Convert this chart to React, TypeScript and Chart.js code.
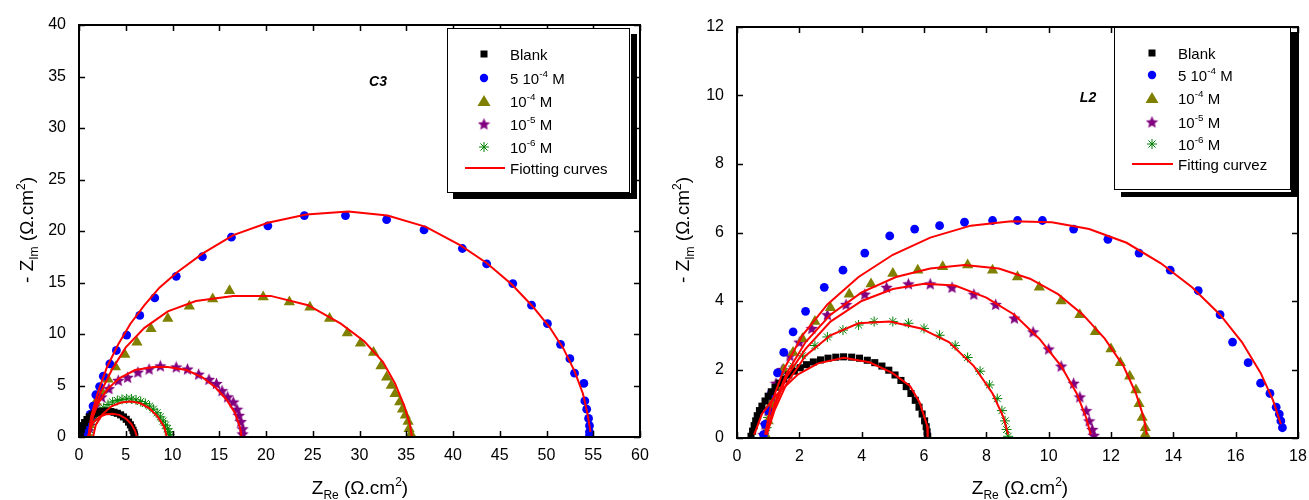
import React, { useEffect, useRef } from "react";
import { Chart, registerables } from "chart.js";
Chart.register(...registerables);

// ---------- C3 (left) data ----------
const c3BlankX = [0.1, 0.15, 0.25, 0.4, 0.6, 0.85, 1.1, 1.4, 1.7, 2.0, 2.35, 2.7, 3.05, 3.4, 3.75, 4.1, 4.45, 4.75, 5.05, 5.3, 5.5, 5.65, 5.78, 5.87, 5.93, 5.97];
const c3BlankY = [0.1, 0.4, 0.75, 1.1, 1.4, 1.7, 1.95, 2.15, 2.3, 2.4, 2.47, 2.5, 2.5, 2.47, 2.4, 2.3, 2.15, 1.95, 1.72, 1.45, 1.18, 0.9, 0.65, 0.42, 0.22, 0.05];
const c3BlueX = [0.6, 0.8, 1.0, 1.2, 1.5, 1.8, 2.2, 2.6, 3.3, 4.0, 5.1, 6.5, 8.1, 10.4, 13.2, 16.3, 20.2, 24.1, 28.5, 32.9, 36.9, 41.0, 43.6, 46.4, 48.4, 50.1, 51.5, 52.5, 53.0, 54.0, 54.1, 54.3, 54.5, 54.6, 54.6, 54.6];
const c3BlueY = [0.2, 0.8, 1.5, 2.2, 3.0, 4.1, 4.9, 5.9, 7.1, 8.4, 9.9, 11.8, 13.5, 15.6, 17.5, 19.4, 20.5, 21.5, 21.5, 21.1, 20.1, 18.3, 16.8, 14.9, 12.8, 11.0, 9.0, 7.6, 6.2, 5.2, 3.5, 2.7, 1.8, 1.1, 0.5, 0.15];
const c3TriX = [0.9, 1.1, 1.4, 1.8, 2.4, 3.1, 3.9, 4.9, 6.2, 7.7, 9.5, 11.8, 14.3, 16.1, 19.7, 22.5, 24.7, 26.8, 28.7, 30.1, 31.5, 32.3, 32.9, 33.4, 33.8, 34.3, 34.6, 34.9, 35.2, 35.3, 35.5];
const c3TriY = [0.3, 1.2, 2.3, 3.4, 4.5, 5.6, 6.8, 8.0, 9.2, 10.5, 11.5, 12.7, 13.4, 14.2, 13.6, 13.1, 12.6, 11.5, 10.1, 9.1, 8.2, 6.9, 5.8, 5.0, 4.2, 3.4, 2.7, 2.1, 1.5, 0.8, 0.3];
const c3StarX = [0.9, 1.1, 1.4, 1.8, 2.4, 3.2, 4.2, 5.2, 6.3, 7.5, 8.7, 10.4, 11.6, 12.8, 13.9, 14.7, 15.3, 15.9, 16.5, 16.9, 17.1, 17.3, 17.5, 17.5];
const c3StarY = [0.5, 1.1, 2.1, 3.1, 3.9, 4.7, 5.5, 5.8, 6.3, 6.6, 6.9, 6.8, 6.6, 6.1, 5.6, 5.2, 4.5, 3.9, 3.4, 2.7, 2.1, 1.5, 0.8, 0.3];
const c3AstX = [1.0, 1.15, 1.35, 1.6, 1.9, 2.25, 2.65, 3.1, 3.6, 4.1, 4.6, 5.1, 5.6, 6.1, 6.6, 7.1, 7.55, 7.95, 8.35, 8.7, 9.0, 9.25, 9.45, 9.6, 9.7, 9.75];
const c3AstY = [0.2, 0.7, 1.2, 1.65, 2.1, 2.5, 2.85, 3.15, 3.4, 3.55, 3.65, 3.7, 3.7, 3.6, 3.45, 3.25, 3.0, 2.7, 2.35, 1.95, 1.55, 1.15, 0.8, 0.5, 0.25, 0.05];
// fitting curves (C3)
const c3FitBlankX = [1.0, 1.2, 1.6, 2.2, 2.9, 3.6, 4.3, 5.0, 5.6, 6.0, 6.2];
const c3FitBlankY = [0.0, 0.9, 1.5, 1.95, 2.2, 2.25, 2.15, 1.8, 1.25, 0.6, 0.0];
const c3FitBlueX = [1.0, 1.3, 2.0, 3.0, 4.2, 5.5, 7.0, 8.6, 10.5, 13.2, 16.5, 20.2, 24.3, 28.8, 33.0, 37.1, 40.8, 43.6, 46.3, 48.5, 50.3, 51.8, 53.0, 53.9, 54.4, 54.7];
const c3FitBlueY = [0.0, 2.0, 4.3, 6.8, 9.0, 11.0, 12.8, 14.5, 16.0, 17.8, 19.6, 20.8, 21.6, 21.9, 21.5, 20.4, 18.6, 16.9, 14.8, 12.7, 10.7, 8.6, 6.4, 4.2, 2.2, 0.5];
const c3FitTriX = [1.1, 1.5, 2.3, 3.5, 5.0, 7.0, 9.5, 12.5, 16.5, 20.5, 24.5, 28.0, 30.5, 32.5, 33.8, 34.8, 35.4, 35.6];
const c3FitTriY = [0.0, 2.2, 4.3, 6.5, 8.7, 10.6, 12.2, 13.2, 13.7, 13.7, 12.8, 11.0, 9.3, 7.3, 5.2, 3.0, 1.2, 0.0];
const c3FitStarX = [1.0, 1.3, 2.0, 3.0, 4.3, 6.0, 8.0, 9.5, 11.5, 13.2, 14.6, 15.8, 16.7, 17.2, 17.4];
const c3FitStarY = [0.0, 1.5, 3.2, 4.6, 5.7, 6.5, 6.8, 6.8, 6.5, 5.8, 4.8, 3.6, 2.3, 1.0, 0.0];
const c3FitAstX = [1.5, 1.8, 2.5, 3.5, 4.5, 5.5, 6.5, 7.5, 8.4, 9.1, 9.4];
const c3FitAstY = [0.0, 1.2, 2.2, 3.0, 3.35, 3.45, 3.3, 2.8, 2.0, 1.0, 0.0];

// ---------- L2 (right) data ----------
const l2BlankX = [0.45, 0.5, 0.55, 0.6, 0.65, 0.72, 0.8, 0.9, 1.0, 1.1, 1.22, 1.35, 1.5, 1.66, 1.84, 2.03, 2.23, 2.45, 2.68, 2.92, 3.17, 3.42, 3.68, 3.93, 4.18, 4.42, 4.65, 4.87, 5.07, 5.26, 5.43, 5.58, 5.72, 5.84, 5.94, 6.02, 6.07, 6.1, 6.12];
const l2BlankY = [0.05, 0.2, 0.36, 0.5, 0.65, 0.8, 0.93, 1.08, 1.22, 1.35, 1.48, 1.6, 1.72, 1.84, 1.95, 2.05, 2.14, 2.22, 2.28, 2.33, 2.36, 2.37, 2.36, 2.33, 2.27, 2.2, 2.1, 1.98, 1.84, 1.68, 1.5, 1.3, 1.1, 0.9, 0.7, 0.5, 0.33, 0.18, 0.05];
const l2BlueX = [0.85, 0.9, 1.0, 1.1, 1.3, 1.5, 1.8, 2.2, 2.8, 3.4, 4.1, 4.9, 5.7, 6.5, 7.3, 8.2, 9.0, 9.8, 10.8, 11.9, 12.9, 13.9, 14.8, 15.5, 15.9, 16.4, 16.8, 17.1, 17.3, 17.4, 17.45, 17.5];
const l2BlueY = [0.1, 0.4, 0.8, 1.3, 1.9, 2.5, 3.1, 3.7, 4.4, 4.9, 5.4, 5.9, 6.1, 6.2, 6.3, 6.35, 6.35, 6.35, 6.1, 5.8, 5.4, 4.9, 4.3, 3.6, 2.8, 2.2, 1.6, 1.3, 0.9, 0.7, 0.5, 0.3];
const l2TriX = [0.9, 1.0, 1.1, 1.3, 1.5, 1.8, 2.1, 2.5, 3.0, 3.6, 4.3, 5.0, 5.8, 6.6, 7.4, 8.2, 9.0, 9.7, 10.4, 11.0, 11.5, 12.0, 12.3, 12.6, 12.8, 12.9, 13.0, 13.1, 13.1];
const l2TriY = [0.1, 0.5, 1.0, 1.5, 2.0, 2.5, 2.9, 3.4, 3.8, 4.2, 4.5, 4.8, 4.9, 5.0, 5.05, 4.9, 4.7, 4.4, 4.0, 3.6, 3.1, 2.6, 2.2, 1.8, 1.4, 1.0, 0.6, 0.3, 0.1];
const l2StarX = [0.85, 0.9, 1.0, 1.1, 1.25, 1.45, 1.7, 2.0, 2.4, 2.9, 3.5, 4.1, 4.8, 5.5, 6.2, 6.9, 7.6, 8.3, 8.9, 9.5, 10.0, 10.4, 10.8, 11.0, 11.2, 11.3, 11.4, 11.45];
const l2StarY = [0.1, 0.4, 0.8, 1.2, 1.6, 2.0, 2.4, 2.8, 3.2, 3.6, 3.9, 4.2, 4.4, 4.5, 4.5, 4.4, 4.2, 3.9, 3.5, 3.1, 2.6, 2.1, 1.6, 1.2, 0.8, 0.5, 0.25, 0.08];
const l2AstX = [0.9, 0.95, 1.0, 1.1, 1.2, 1.35, 1.55, 1.8, 2.1, 2.5, 2.9, 3.4, 3.9, 4.4, 5.0, 5.5, 6.0, 6.5, 7.0, 7.4, 7.8, 8.1, 8.35, 8.5, 8.6, 8.65, 8.7];
const l2AstY = [0.05, 0.3, 0.6, 0.9, 1.2, 1.5, 1.8, 2.1, 2.4, 2.7, 2.95, 3.15, 3.3, 3.4, 3.4, 3.35, 3.2, 3.0, 2.7, 2.35, 1.95, 1.55, 1.15, 0.8, 0.5, 0.25, 0.05];
// fitting curves (L2)
const l2FitBlankX = [0.55, 0.8, 1.23, 1.96, 2.6, 3.42, 4.25, 4.98, 5.55, 5.86, 6.1, 6.12];
const l2FitBlankY = [0.1, 0.7, 1.23, 1.86, 2.18, 2.34, 2.21, 1.9, 1.52, 1.04, 0.36, 0.0];
const l2FitBlueX = [0.9, 1.1, 1.5, 2.1, 2.9, 3.9, 5.0, 6.2, 7.5, 8.8, 10.1, 11.3, 12.5, 13.6, 14.6, 15.5, 16.2, 16.8, 17.2, 17.45];
const l2FitBlueY = [0.1, 1.0, 2.0, 3.0, 3.9, 4.7, 5.35, 5.85, 6.2, 6.33, 6.3, 6.1, 5.7, 5.1, 4.4, 3.6, 2.8, 1.9, 1.1, 0.4];
const l2FitTriX = [0.95, 1.2, 1.6, 2.2, 3.0, 4.0, 5.1, 6.2, 7.3, 8.4, 9.4, 10.3, 11.1, 11.8, 12.4, 12.8, 13.05, 13.15];
const l2FitTriY = [0.1, 1.0, 1.9, 2.8, 3.6, 4.25, 4.7, 4.95, 5.05, 4.95, 4.65, 4.2, 3.6, 2.9, 2.1, 1.3, 0.6, 0.1];
const l2FitStarX = [0.95, 1.2, 1.6, 2.2, 3.0, 4.0, 5.0, 6.0, 7.0, 8.0, 8.9, 9.7, 10.4, 10.9, 11.2, 11.35];
const l2FitStarY = [0.1, 0.9, 1.8, 2.6, 3.4, 4.0, 4.35, 4.5, 4.45, 4.1, 3.6, 2.9, 2.1, 1.3, 0.6, 0.1];
const l2FitAstX = [0.95, 1.2, 1.6, 2.2, 3.0, 3.9, 4.9, 5.9, 6.8, 7.6, 8.2, 8.55, 8.7];
const l2FitAstY = [0.1, 0.8, 1.6, 2.4, 3.0, 3.35, 3.4, 3.2, 2.8, 2.1, 1.3, 0.6, 0.1];

// ---------- labels ----------
const seriesNames = ["Blank", "5 10|-4| M", "10|-4| M", "10|-5| M", "10|-6| M"];
const c3FitName = "Fiotting curves";
const l2FitName = "Fitting curvez";

const FONT = "'Liberation Sans', Arial, sans-serif";
const COLORS = { blank: "#000000", blue: "#0000FF", olive: "#808000", purple: "#800080", green: "#008000", red: "#FF0000" };

function makeStar(size: number, color: string) {
  const c = document.createElement("canvas");
  c.width = size;
  c.height = size;
  const g = c.getContext("2d")!;
  g.fillStyle = color;
  g.beginPath();
  const cx = size / 2, cy = size / 2 + 0.5, R = size / 2, r = R * 0.45;
  for (let i = 0; i < 10; i++) {
    const a = -Math.PI / 2 + (i * Math.PI) / 5;
    const rad = i % 2 ? r : R;
    const px = cx + rad * Math.cos(a), py = cy + rad * Math.sin(a);
    if (i === 0) g.moveTo(px, py); else g.lineTo(px, py);
  }
  g.closePath();
  g.fill();
  return c;
}

const pts = (xs: number[], ys: number[]) => xs.map((x, i) => ({ x, y: ys[i] }));

type Seg = { t: string; s: number; dy: number; w?: string; it?: boolean };
function segFont(sg: Seg) {
  return `${sg.it ? "italic " : ""}${sg.w || "normal"} ${sg.s}px ${FONT}`;
}
function drawRich(ctx: CanvasRenderingContext2D, segs: Seg[], x: number, y: number, align: "left" | "center") {
  let total = 0;
  for (const sg of segs) {
    ctx.font = segFont(sg);
    total += ctx.measureText(sg.t).width;
  }
  let cx = align === "center" ? x - total / 2 : x;
  ctx.textBaseline = "alphabetic";
  ctx.textAlign = "left";
  for (const sg of segs) {
    ctx.font = segFont(sg);
    ctx.fillText(sg.t, cx, y + sg.dy);
    cx += ctx.measureText(sg.t).width;
  }
}
function parseLabel(label: string, size: number): Seg[] {
  const parts = label.split("|");
  return parts.map((p, i) => (i % 2 === 1 ? { t: p, s: size * 0.66, dy: -size * 0.42 } : { t: p, s: size, dy: 0 }));
}

function drawMarker(ctx: CanvasRenderingContext2D, kind: string, x: number, y: number, star: HTMLCanvasElement) {
  ctx.save();
  if (kind === "blank") {
    ctx.fillStyle = COLORS.blank;
    ctx.fillRect(x - 3.5, y - 3.5, 7, 7);
  } else if (kind === "blue") {
    ctx.fillStyle = COLORS.blue;
    ctx.beginPath();
    ctx.arc(x, y, 4.2, 0, Math.PI * 2);
    ctx.fill();
  } else if (kind === "olive") {
    ctx.fillStyle = COLORS.olive;
    ctx.beginPath();
    ctx.moveTo(x, y - 6);
    ctx.lineTo(x + 6.5, y + 5);
    ctx.lineTo(x - 6.5, y + 5);
    ctx.closePath();
    ctx.fill();
  } else if (kind === "purple") {
    ctx.drawImage(star, x - star.width / 2, y - star.height / 2);
  } else if (kind === "green") {
    ctx.strokeStyle = COLORS.green;
    ctx.lineWidth = 1;
    const r = 5;
    ctx.beginPath();
    ctx.moveTo(x - r, y); ctx.lineTo(x + r, y);
    ctx.moveTo(x, y - r); ctx.lineTo(x, y + r);
    const d = r * 0.707;
    ctx.moveTo(x - d, y - d); ctx.lineTo(x + d, y + d);
    ctx.moveTo(x - d, y + d); ctx.lineTo(x + d, y - d);
    ctx.stroke();
  }
  ctx.restore();
}

type PanelCfg = {
  width: number;
  xMax: number; xStep: number; yMax: number; yStep: number;
  padding: { left: number; right: number; top: number; bottom: number };
  yWidth: number; xHeight: number;
  yTitle: { x: number; y: number };
  xTitle: { x: number; y: number };
  tag: { text: string; x: number; y: number };
  legend: {
    box: [number, number, number, number];
    shadowR: [number, number, number, number];
    shadowB: [number, number, number, number];
    markerX: number; textX: number; rows: number[];
    lineRow: number; lineX1: number; lineX2: number; fitName: string;
  };
  series: { kind: string; xs: number[]; ys: number[] }[];
  fits: { xs: number[]; ys: number[] }[];
};

function Panel({ cfg }: { cfg: PanelCfg }) {
  const ref = useRef<HTMLCanvasElement>(null);
  useEffect(() => {
    const canvas = ref.current!;
    const star = makeStar(13, COLORS.purple);
    const styleFor: Record<string, any> = {
      blank: { pointStyle: "rect", pointRadius: 5, backgroundColor: COLORS.blank, borderColor: COLORS.blank, borderWidth: 0 },
      blue: { pointStyle: "circle", pointRadius: 4.4, backgroundColor: COLORS.blue, borderColor: COLORS.blue, borderWidth: 0 },
      olive: { pointStyle: "triangle", pointRadius: 6.5, backgroundColor: COLORS.olive, borderColor: COLORS.olive, borderWidth: 0 },
      purple: { pointStyle: star, pointRadius: 6.5, backgroundColor: COLORS.purple, borderColor: COLORS.purple },
      green: { pointStyle: "star", pointRadius: 5, backgroundColor: COLORS.green, borderColor: COLORS.green, borderWidth: 1 },
    };
    const datasets: any[] = [];
    cfg.fits.forEach((f) =>
      datasets.push({
        data: pts(f.xs, f.ys), showLine: true, borderColor: COLORS.red, borderWidth: 2,
        pointRadius: 0, fill: false, tension: 0, order: 0,
      })
    );
    cfg.series.forEach((s) =>
      datasets.push({ data: pts(s.xs, s.ys), showLine: false, order: 1, ...styleFor[s.kind] })
    );

    const overlay = {
      id: "overlay",
      afterDraw(chart: any) {
        const ctx: CanvasRenderingContext2D = chart.ctx;
        const a = chart.chartArea;
        const xs = chart.scales.x, ys = chart.scales.y;
        ctx.save();
        // frame
        ctx.strokeStyle = "#000";
        ctx.lineWidth = 2;
        ctx.strokeRect(a.left, a.top, a.right - a.left, a.bottom - a.top);
        // ticks (inside)
        ctx.lineWidth = 1.5;
        ctx.beginPath();
        const TL = 6;
        xs.ticks.forEach((t: any) => {
          const p = Math.round(xs.getPixelForValue(t.value)) + 0.5;
          ctx.moveTo(p, a.bottom); ctx.lineTo(p, a.bottom - TL);
          ctx.moveTo(p, a.top); ctx.lineTo(p, a.top + TL);
        });
        ys.ticks.forEach((t: any) => {
          const p = Math.round(ys.getPixelForValue(t.value)) + 0.5;
          ctx.moveTo(a.left, p); ctx.lineTo(a.left + TL, p);
          ctx.moveTo(a.right, p); ctx.lineTo(a.right - TL, p);
        });
        ctx.stroke();

        ctx.fillStyle = "#000";
        // x title
        drawRich(ctx, [
          { t: "Z", s: 19, dy: 0 }, { t: "Re", s: 12, dy: 5 }, { t: " (\u03A9.cm", s: 19, dy: 0 },
          { t: "2", s: 12, dy: -8 }, { t: ")", s: 19, dy: 0 },
        ], cfg.xTitle.x, cfg.xTitle.y, "center");
        // y title
        ctx.save();
        ctx.translate(cfg.yTitle.x, cfg.yTitle.y);
        ctx.rotate(-Math.PI / 2);
        drawRich(ctx, [
          { t: "- Z", s: 19, dy: 0 }, { t: "Im", s: 12, dy: 5 }, { t: " (\u03A9.cm", s: 19, dy: 0 },
          { t: "2", s: 12, dy: -8 }, { t: ")", s: 19, dy: 0 },
        ], 0, 0, "center");
        ctx.restore();

        // tag
        drawRich(ctx, [{ t: cfg.tag.text, s: 14, dy: 0, w: "bold", it: true }], cfg.tag.x, cfg.tag.y, "center");

        // legend
        const L = cfg.legend;
        ctx.fillStyle = "#000";
        ctx.fillRect(...L.shadowR);
        ctx.fillRect(...L.shadowB);
        ctx.fillStyle = "#fff";
        ctx.fillRect(L.box[0], L.box[1], L.box[2], L.box[3]);
        ctx.strokeStyle = "#000";
        ctx.lineWidth = 1;
        ctx.strokeRect(L.box[0] + 0.5, L.box[1] + 0.5, L.box[2], L.box[3]);
        const kinds = ["blank", "blue", "olive", "purple", "green"];
        kinds.forEach((k, i) => {
          drawMarker(ctx, k, L.markerX, L.rows[i], star);
          ctx.fillStyle = "#000";
          drawRich(ctx, parseLabel(seriesNames[i], 15), L.textX, L.rows[i] + 5.5, "left");
        });
        ctx.strokeStyle = COLORS.red;
        ctx.lineWidth = 2;
        ctx.beginPath();
        ctx.moveTo(L.lineX1, L.lineRow);
        ctx.lineTo(L.lineX2, L.lineRow);
        ctx.stroke();
        ctx.fillStyle = "#000";
        drawRich(ctx, [{ t: L.fitName, s: 15, dy: 0 }], L.textX, L.lineRow + 5.5, "left");
        ctx.restore();
      },
    };

    const tickFont = { family: FONT, size: 16 };
    const chart = new Chart(canvas, {
      type: "scatter",
      data: { datasets },
      options: {
        animation: false,
        responsive: false,
        maintainAspectRatio: false,
        layout: { padding: cfg.padding },
        plugins: { legend: { display: false }, tooltip: { enabled: false } },
        scales: {
          x: {
            type: "linear", min: 0, max: cfg.xMax,
            ticks: { stepSize: cfg.xStep, font: tickFont, color: "#000", padding: 9, maxRotation: 0, autoSkip: false },
            grid: { display: false, drawTicks: false },
            border: { display: false },
            afterFit: (s: any) => { s.height = cfg.xHeight; s.paddingLeft = 0; s.paddingRight = 0; },
          },
          y: {
            type: "linear", min: 0, max: cfg.yMax,
            ticks: { stepSize: cfg.yStep, font: tickFont, color: "#000", padding: 13, autoSkip: false },
            grid: { display: false, drawTicks: false },
            border: { display: false },
            afterFit: (s: any) => { s.width = cfg.yWidth; s.paddingTop = 0; s.paddingBottom = 0; },
          },
        },
      } as any,
      plugins: [overlay],
    });
    return () => chart.destroy();
  }, [cfg]);
  return <canvas ref={ref} width={cfg.width} height={500} style={{ display: "block", width: cfg.width, height: 500 }} />;
}

const leftCfg: PanelCfg = {
  width: 655,
  xMax: 60, xStep: 5, yMax: 40, yStep: 5,
  padding: { left: 0, right: 15, top: 25, bottom: 0 },
  yWidth: 79, xHeight: 63,
  yTitle: { x: 33, y: 230 },
  xTitle: { x: 360, y: 494 },
  tag: { text: "C3", x: 378, y: 86 },
  legend: {
    box: [447, 28, 182, 164],
    shadowR: [631, 34, 6, 165],
    shadowB: [453, 193, 184, 6],
    markerX: 484, textX: 510, rows: [54, 78, 101, 124, 147],
    lineRow: 168, lineX1: 465, lineX2: 505, fitName: c3FitName,
  },
  series: [
    { kind: "blank", xs: c3BlankX, ys: c3BlankY },
    { kind: "blue", xs: c3BlueX, ys: c3BlueY },
    { kind: "olive", xs: c3TriX, ys: c3TriY },
    { kind: "purple", xs: c3StarX, ys: c3StarY },
    { kind: "green", xs: c3AstX, ys: c3AstY },
  ],
  fits: [
    { xs: c3FitBlankX, ys: c3FitBlankY },
    { xs: c3FitBlueX, ys: c3FitBlueY },
    { xs: c3FitTriX, ys: c3FitTriY },
    { xs: c3FitStarX, ys: c3FitStarY },
    { xs: c3FitAstX, ys: c3FitAstY },
  ],
};

const RX = 655;
const rightCfg: PanelCfg = {
  width: 654,
  xMax: 18, xStep: 2, yMax: 12, yStep: 2,
  padding: { left: 0, right: 11, top: 27, bottom: 0 },
  yWidth: 82, xHeight: 62,
  yTitle: { x: 689 - RX, y: 230 },
  xTitle: { x: 1020 - RX, y: 494 },
  tag: { text: "L2", x: 1088 - RX, y: 102 },
  legend: {
    box: [1114 - RX, 27, 176, 162],
    shadowR: [1291 - RX, 32, 6, 165],
    shadowB: [1121 - RX, 192, 176, 5],
    markerX: 1152 - RX, textX: 1178 - RX, rows: [53, 75, 98, 122, 144],
    lineRow: 164, lineX1: 1132 - RX, lineX2: 1173 - RX, fitName: l2FitName,
  },
  series: [
    { kind: "blank", xs: l2BlankX, ys: l2BlankY },
    { kind: "blue", xs: l2BlueX, ys: l2BlueY },
    { kind: "olive", xs: l2TriX, ys: l2TriY },
    { kind: "purple", xs: l2StarX, ys: l2StarY },
    { kind: "green", xs: l2AstX, ys: l2AstY },
  ],
  fits: [
    { xs: l2FitBlankX, ys: l2FitBlankY },
    { xs: l2FitBlueX, ys: l2FitBlueY },
    { xs: l2FitTriX, ys: l2FitTriY },
    { xs: l2FitStarX, ys: l2FitStarY },
    { xs: l2FitAstX, ys: l2FitAstY },
  ],
};

export default function App() {
  return (
    <div style={{ position: "absolute", left: 0, top: 0, width: 1309, height: 500, background: "#fff", display: "flex" }}>
      <Panel cfg={leftCfg} />
      <Panel cfg={rightCfg} />
    </div>
  );
}
